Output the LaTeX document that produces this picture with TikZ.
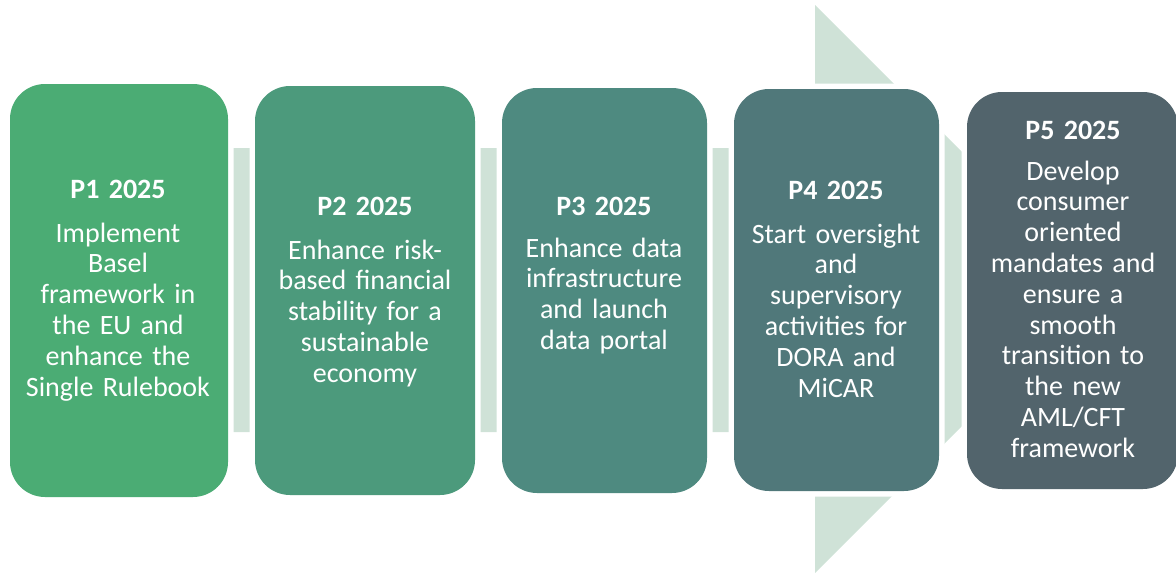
\documentclass[tikz,border=0pt]{standalone}
\usepackage{fontspec}
\setmainfont{Carlito}
\definecolor{cA}{HTML}{4BAC74}
\definecolor{cB}{HTML}{4C9A7C}
\definecolor{cC}{HTML}{4E8A80}
\definecolor{cD}{HTML}{50787A}
\definecolor{cE}{HTML}{52646C}
\definecolor{arrowc}{HTML}{CFE2D7}
\tikzset{
  stagebox/.style={shape=rectangle, rounded corners=35pt, inner sep=0pt,
    preaction={draw=white, line width=11pt}},
  stagetext/.style={text=white, align=center, text width=240pt, inner sep=0pt,
    anchor=base, font=\fontsize{28}{30.8}\selectfont},
}
\begin{document}
\begin{tikzpicture}[x=1pt,y=-1pt]
\useasboundingbox (0,0) rectangle (1176,573);
% background arrow
\fill[arrowc] (10,148) -- (815,148) -- (815,5) -- (1099,289) -- (815,573) -- (815,432) -- (10,432) -- cycle;
% boxes
\node[stagebox, fill=cA, minimum width=218pt, minimum height=413pt] (b1) at (119,290.5) {};
\node[stagebox, fill=cB, minimum width=220pt, minimum height=409pt] (b2) at (365,290.5) {};
\node[stagebox, fill=cC, minimum width=205pt, minimum height=405pt] (b3) at (604.5,290.5) {};
\node[stagebox, fill=cD, minimum width=205pt, minimum height=402pt] (b4) at (836.5,290) {};
\node[stagebox, fill=cE, minimum width=211pt, minimum height=397pt] (b5) at (1072.5,290.5) {};
% texts
\node[stagetext] (t1) at (118,198) {\textbf{P1 2025}\\[13.2pt]Implement\\Basel\\framework in\\the EU and\\enhance the\\Single Rulebook};
\node[stagetext] (t2) at (365,215) {\textbf{P2 2025}\\[13.2pt]Enhance risk-\\based financial\\stability for a\\sustainable\\economy};
\node[stagetext] (t3) at (604,215) {\textbf{P3 2025}\\[11.2pt]Enhance data\\infrastructure\\and launch\\data portal};
\node[stagetext] (t4) at (836,199) {\textbf{P4 2025}\\[13.2pt]Start oversight\\and\\supervisory\\activities for\\DORA and\\MiCAR};
\node[stagetext] (t5) at (1073,139) {\textbf{P5 2025}\\[10.2pt]Develop\\consumer\\oriented\\mandates and\\ensure a\\smooth\\transition to\\the new\\AML/CFT\\framework};
\end{tikzpicture}
\end{document}
